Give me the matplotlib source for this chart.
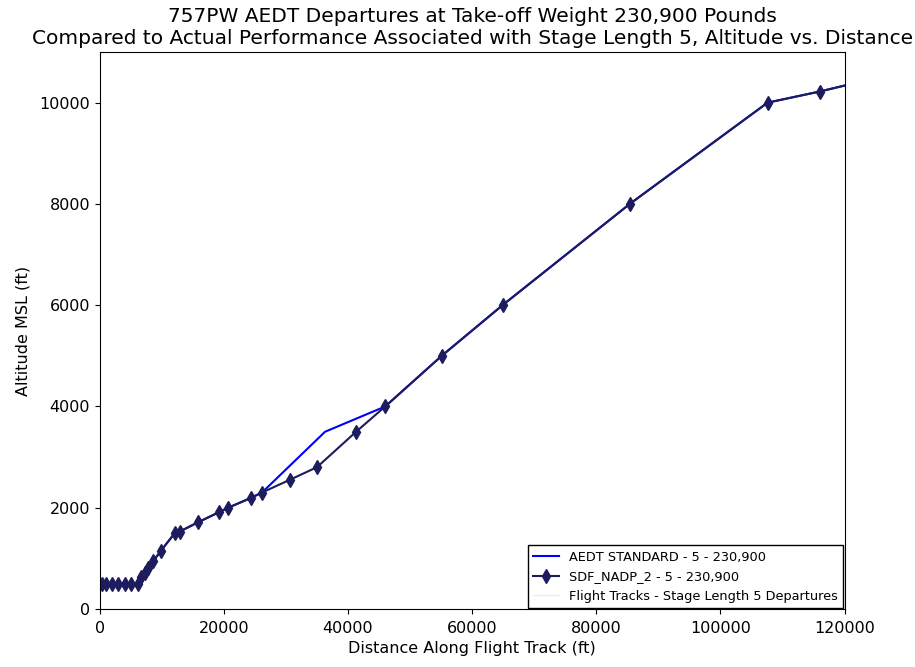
import matplotlib
matplotlib.use("Agg")
import matplotlib.pyplot as plt

# SDF_NADP_2 profile (distance ft, altitude ft)
sdf_dist = [300, 1000, 2000, 3000, 4000, 5000, 6100, 6700, 7300, 7800, 8600, 9800,
            12100, 12900, 15800, 19200, 20700, 24300, 26150, 30600, 35000, 41300,
            46000, 55100, 64900, 85400, 107600, 116000, 130000]
sdf_alt = [500, 500, 500, 500, 500, 500, 500, 640, 720, 810, 940, 1140,
           1500, 1530, 1710, 1910, 2000, 2190, 2300, 2550, 2800, 3500,
           4000, 5000, 6000, 8000, 10000, 10220, 10630]

# AEDT standard profile
aedt_dist = [300, 6100, 6700, 7800, 8600, 9800, 12100, 12900, 15800, 19200, 20700,
             24300, 26150, 36300, 46000, 55100, 64900, 85400, 107600, 116000, 130000]
aedt_alt = [500, 500, 640, 810, 940, 1140, 1500, 1530, 1710, 1910, 2000,
            2190, 2300, 3500, 4000, 5000, 6000, 8000, 10000, 10220, 10630]

fig = plt.figure(figsize=(9.15, 6.67), dpi=100)
ax = fig.add_axes([0.109, 0.087, 0.814, 0.835])

ax.plot(aedt_dist, aedt_alt, color='blue', lw=1.5, label='AEDT STANDARD - 5 - 230,900')
ax.plot(sdf_dist, sdf_alt, color='#1c1c5e', lw=1.5, marker='d', markersize=7,
        label='SDF_NADP_2 - 5 - 230,900')
ax.plot([], [], color='#ececf2', lw=1, label='Flight Tracks - Stage Length 5 Departures')

ax.set_xlim(0, 120000)
ax.set_ylim(0, 11000)
ax.set_xticks([0, 20000, 40000, 60000, 80000, 100000, 120000])
ax.set_yticks([0, 2000, 4000, 6000, 8000, 10000])
ax.tick_params(labelsize=11.5)
ax.tick_params(axis='x', pad=5)
ax.set_xlabel('Distance Along Flight Track (ft)', fontsize=11.5, labelpad=4)
ax.set_ylabel('Altitude MSL (ft)', fontsize=11.5, labelpad=6)
ax.set_title('757PW AEDT Departures at Take-off Weight 230,900 Pounds\n'
             'Compared to Actual Performance Associated with Stage Length 5, Altitude vs. Distance',
             fontsize=14.5, pad=6)

leg = ax.legend(loc='lower right', fontsize=9.3, fancybox=False, framealpha=1,
                borderaxespad=0.1, handlelength=2.0)
leg.get_frame().set_edgecolor('black')

fig.savefig('out.png', dpi=100)
